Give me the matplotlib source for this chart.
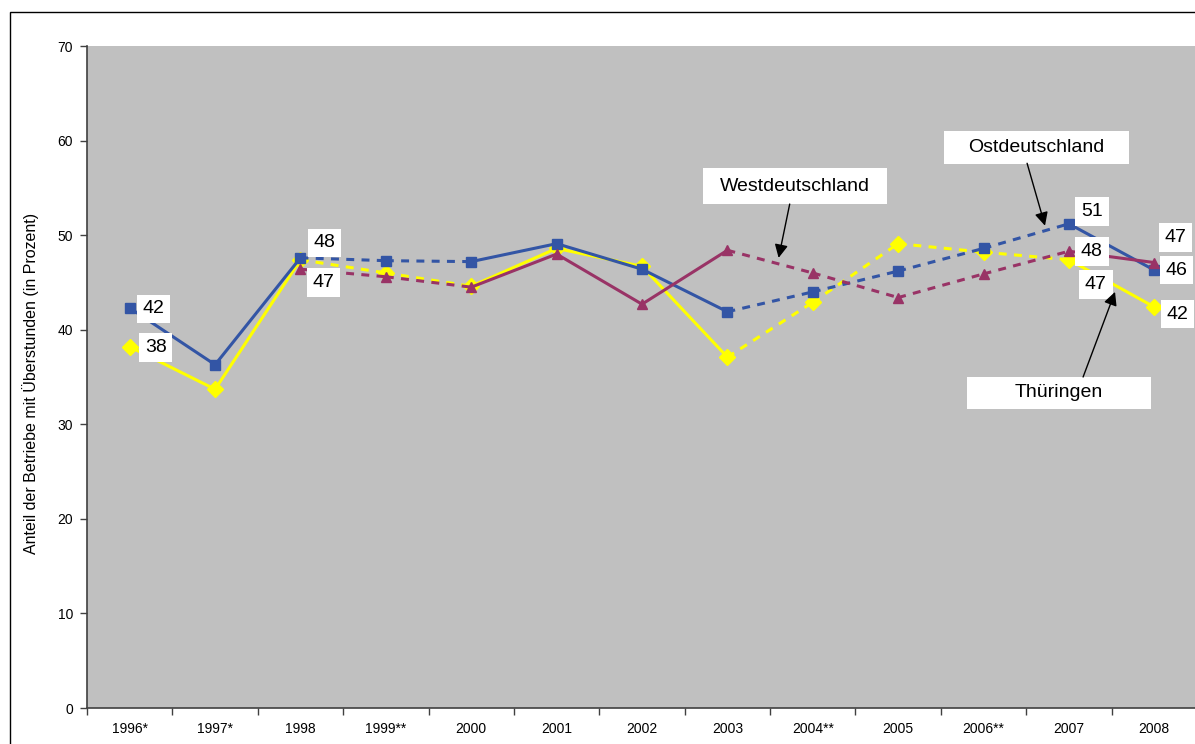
import numpy as np
import matplotlib
matplotlib.use('Agg')
import matplotlib.pyplot as plt
from matplotlib.patches import Rectangle

plt.rcParams['font.family'] = ['Liberation Sans', 'DejaVu Sans']

jahre = ['1996*', '1997*', '1998', '1999**', '2000', '2001', '2002', '2003',
         '2004**', '2005', '2006**', '2007', '2008']
ost = [42.3, 36.3, 47.6, 47.3, 47.2, 49.1, 46.4, 41.9, 44.0, 46.2, 48.6, 51.2, 46.3]
west = [np.nan, np.nan, 46.4, 45.6, 44.5, 48.0, 42.7, 48.4, 46.0, 43.4, 45.9, 48.3, 47.1]
thueringen = [38.2, 33.7, 47.4, 46.0, 44.6, 48.6, 46.7, 37.1, 42.9, 49.1, 48.2, 47.4, 42.4]
y_ticks = [0, 10, 20, 30, 40, 50, 60, 70]
y_titel = 'Anteil der Betriebe mit Überstunden (in Prozent)'

blau = '#3355A5'
rot = '#993366'
gelb = '#FFFF00'

fig = plt.figure(figsize=(11.95, 7.44), dpi=100)
fig.patch.set_facecolor('white')
# rahmen um das diagramm
fig.patches.append(Rectangle((10/1195, -0.1), 1.2, 1 - 12/744 + 0.1, transform=fig.transFigure,
                             fill=False, edgecolor='black', lw=1.0))
ax = fig.add_axes([87/1195, 36/744, 1110/1195, 662/744])
ax.set_facecolor('#C0C0C0')

x = np.arange(len(jahre))
gestrichelt = [('**' in j) for j in jahre]

def zeichne(werte, farbe, marker, ms, z):
    for i in range(len(werte) - 1):
        if np.isnan(werte[i]) or np.isnan(werte[i+1]):
            continue
        if gestrichelt[i] or gestrichelt[i+1]:
            ls = (0, (2.6, 2.4))
        else:
            ls = '-'
        ax.plot(x[i:i+2], werte[i:i+2], color=farbe, lw=2.2, ls=ls, zorder=z,
                solid_capstyle='butt', dash_capstyle='butt')
    ax.plot(x, werte, ls='none', marker=marker, ms=ms, color=farbe, zorder=z + 0.5)

zeichne(thueringen, gelb, 'D', 8, 2)
zeichne(ost, blau, 's', 7, 3)
zeichne(west, rot, '^', 7.5, 4)

ax.set_xlim(-0.5, len(jahre) - 0.5)
ax.set_ylim(0, 70)
ax.set_yticks(y_ticks)
ax.set_xticks(np.arange(len(jahre) + 1) - 0.5)
ax.set_xticklabels([])
ax.set_xticks(x, minor=True)
ax.set_xticklabels(jahre, minor=True)
ax.tick_params(axis='x', which='major', direction='out', length=5, width=1, color='#404040')
ax.tick_params(axis='x', which='minor', length=0, pad=10, labelsize=10)
ax.tick_params(axis='y', direction='out', length=5, width=1, color='#404040', pad=5, labelsize=10)
for s in ['top', 'right']:
    ax.spines[s].set_visible(False)
for s in ['left', 'bottom']:
    ax.spines[s].set_color('#404040')
    ax.spines[s].set_linewidth(1.2)
ax.set_ylabel(y_titel, fontsize=11.5)
ax.yaxis.set_label_coords(-0.043, 0.49)

# datenbeschriftungen: (reihe, index, dx, dy) in pixel
reihen = {'ost': ost, 'west': west, 'th': thueringen}
beschriftung = [('ost', 0, 24, -1), ('th', 0, 26, -1), ('ost', 2, 24, 15), ('th', 2, 23, -23),
                ('ost', 11, 23, 12), ('west', 11, 23, 0), ('th', 11, 27, -25),
                ('west', 12, 21, 25), ('ost', 12, 22, 0), ('th', 12, 23, -7)]
for name, i, dx, dy in beschriftung:
    v = reihen[name][i]
    ax.annotate('%d' % int(round(v)), xy=(x[i], v), xytext=(dx, dy), textcoords='offset pixels',
                ha='center', va='center', fontsize=14, zorder=10,
                bbox=dict(boxstyle='square,pad=0.3', fc='white', ec='none'))

# legendenkaesten mit pfeilen: box (x0, x1, y0, y1), pfeil start, pfeil ziel
kaesten = [('Westdeutschland', (6.715, 8.870, 53.29, 57.07), (7.73, 53.29), (7.60, 47.6)),
           ('Ostdeutschland', (9.537, 11.704, 57.52, 61.01), (10.51, 57.6), (10.72, 51.0)),
           ('Thüringen', (9.807, 11.962, 31.62, 35.0), (11.166, 35.0), (11.54, 44.0))]
for txt, (x0, x1, y0, y1), start, ziel in kaesten:
    ax.add_patch(Rectangle((x0, y0), x1 - x0, y1 - y0, fc='white', ec='none', zorder=11))
    ax.text((x0 + x1) / 2, (y0 + y1) / 2, txt, ha='center', va='center', fontsize=14, zorder=12)
    ax.annotate('', xy=ziel, xytext=start, zorder=12,
                arrowprops=dict(arrowstyle='-|>', mutation_scale=20, lw=1.0, color='black',
                                shrinkA=0, shrinkB=0))

fig.savefig('out.png', dpi=100)
